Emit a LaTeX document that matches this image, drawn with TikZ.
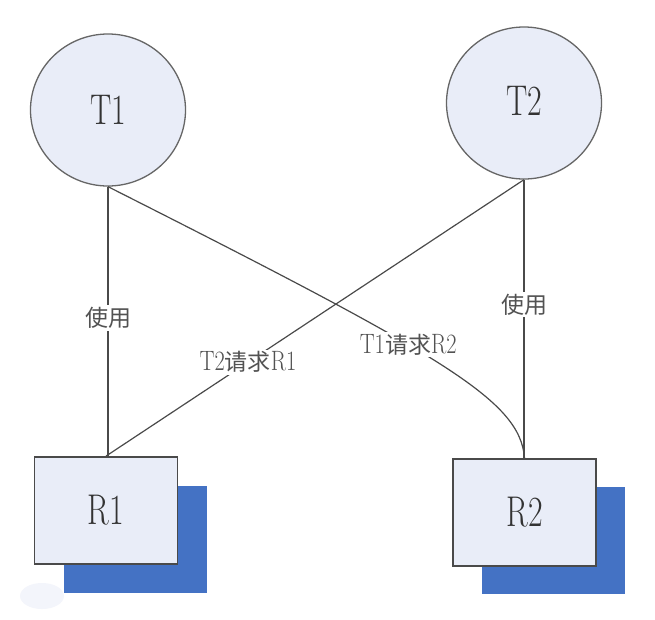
\documentclass[tikz,border=0pt]{standalone}
\usepackage{fontspec}
\usepackage{graphicx}
\newfontfamily\cjk{Noto Sans CJK SC}
\usetikzlibrary{shapes.geometric}
\definecolor{nodefill}{HTML}{E9EDF8}
\definecolor{shadowblue}{HTML}{4472C4}
\definecolor{edgegray}{HTML}{4A4A4A}
\definecolor{ringgray}{HTML}{666666}
\definecolor{textgray}{HTML}{333333}
\newcommand\cond[1]{\scalebox{0.74}[1]{#1}}
\newcommand\lat[1]{{\fontsize{28}{28}\selectfont\scalebox{0.8}[1]{#1}}}
\begin{document}
\begin{tikzpicture}[x=1pt,y=-1pt,
  proc/.style={ellipse, draw=ringgray, line width=1.3pt, fill=nodefill, minimum width=155pt, minimum height=152pt, inner sep=0pt, text=textgray, font=\fontsize{43}{43}\selectfont},
  res/.style={rectangle, draw=edgegray, line width=1.8pt, fill=nodefill, minimum width=143pt, minimum height=107pt, inner sep=0pt, text=textgray, font=\fontsize{43}{43}\selectfont},
  shadowbox/.style={rectangle, fill=shadowblue, minimum width=143pt, minimum height=107pt, inner sep=0pt},
  link/.style={draw=edgegray, line width=1.2pt},
  lbl/.style={fill=white, inner sep=2pt, text=textgray!85, font=\fontsize{23}{23}\selectfont}]
\useasboundingbox (0,0) rectangle (655,619);
\fill[white] (0,0) rectangle (655,619);
\fill[nodefill!55] (42,596) ellipse [x radius=22pt, y radius=13pt];
% nodes
\node[proc] (T1) at (108,110) {\cond{T1}};
\node[proc] (T2) at (524,103) {\raisebox{5pt}{\cond{T2}}};
\node[shadowbox] (S1) at (135,539.5) {};
\node[res] (R1) at (106,510.5) {\cond{R1}};
\node[shadowbox] (S2) at (553,540.5) {};
\node[res] (R2) at (524.5,512.5) {\cond{R2}};
% connectors
\draw[link] (T1.south) -- node[lbl, pos=0.487]{\cjk 使用} (T1.south |- R1.north);
\draw[link] (T2.south) -- node[lbl, pos=0.448]{\cjk 使用} (T2.south |- R2.north);
\draw[link] (T2.south) -- node[lbl, pos=0.66]{\lat{T2}{\cjk 请求}\lat{R1}} (R1.north);
\draw[link] (T1.south) .. controls (445,357) and (520,400) .. node[lbl, pos=0.42]{\lat{T1}{\cjk 请求}\lat{R2}} (R2.north);
\end{tikzpicture}
\end{document}
